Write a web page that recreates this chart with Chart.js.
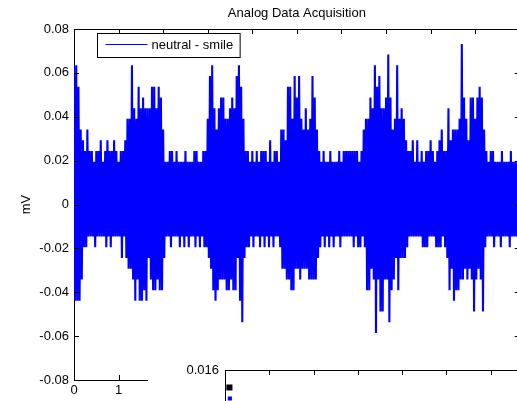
<!DOCTYPE html>
<html>
<head>
<meta charset="utf-8">
<script src="https://cdn.jsdelivr.net/npm/chart.js@4.4.1/dist/chart.umd.min.js"></script>
<style>
    html, body { margin: 0; padding: 0; background: #fff; overflow: hidden; width: 517px; height: 401px; }
    #wrap { position: relative; width: 517px; height: 401px; overflow: hidden; }
    #mainChart { position: absolute; left: 0; top: 0; }
    #insetChart { position: absolute; left: 148px; top: 350px; background: #fff; }
</style>
</head>
<body>
<div id="wrap">
    <canvas id="mainChart" width="530" height="401"></canvas>
    <canvas id="insetChart" width="530" height="400"></canvas>
</div>
<script>
// labels
const chartTitle = 'Analog Data Acquisition';
const yAxisTitle = 'mV';
const seriesLabel = 'neutral - smile';

// time axis (s) and sample width of one envelope column
const xMin = 0;
const xMax = 10;
const xStep = 1;
const sampleStep = 0.05;

// y axis ticks (mV)
const yMin = -0.08;
const yMax = 0.08;
const yStep = 0.02;

// max / min of the signal in each column (mV)
const upperEnvelope = [
    0.0635,0.0635,0.0537,0.0342,0.0293,0.0244,0.0342,0.0244,0.0244,0.0195,0.0244,0.0244,0.0293,0.0195,0.0244,0.0293,0.0244,0.0244,0.0293,0.0244,
    0.0195,0.0244,0.0244,0.0293,0.0391,0.0391,0.0635,0.0439,0.0391,0.0537,0.0439,0.0488,0.0439,0.0439,0.0439,0.0537,0.0537,0.0439,0.0537,0.0488,
    0.0342,0.0195,0.0195,0.0244,0.0244,0.0195,0.0244,0.0195,0.0195,0.0195,0.0244,0.0195,0.0195,0.0195,0.0244,0.0244,0.0195,0.0195,0.0244,0.0244,
    0.0391,0.0586,0.0635,0.0439,0.0342,0.0439,0.0488,0.0488,0.0391,0.0391,0.0439,0.0488,0.0439,0.0586,0.0635,0.0537,0.0391,0.0244,0.0244,0.0195,
    0.0244,0.0195,0.0244,0.0195,0.0244,0.0244,0.0244,0.0195,0.0293,0.0195,0.0244,0.0244,0.0195,0.0342,0.0342,0.0293,0.0537,0.0537,0.0391,0.0586,
    0.0488,0.0586,0.0391,0.0342,0.0439,0.0342,0.0391,0.0586,0.0488,0.0342,0.0244,0.0195,0.0244,0.0195,0.0195,0.0244,0.0195,0.0195,0.0195,0.0244,
    0.0195,0.0244,0.0244,0.0244,0.0244,0.0244,0.0244,0.0244,0.0195,0.0244,0.0342,0.0391,0.0391,0.0488,0.0439,0.0635,0.0537,0.0586,0.0439,0.0439,
    0.0488,0.0684,0.0488,0.0342,0.0391,0.0635,0.0391,0.0439,0.0391,0.0293,0.0244,0.0244,0.0293,0.0195,0.0293,0.0195,0.0244,0.0195,0.0244,0.0244,
    0.0293,0.0244,0.0195,0.0244,0.0293,0.0342,0.0244,0.0244,0.0439,0.0293,0.0342,0.0342,0.0342,0.0391,0.0732,0.0488,0.0391,0.0293,0.0488,0.0488,
    0.0391,0.0488,0.0537,0.0488,0.0342,0.0244,0.0195,0.0244,0.0244,0.0195,0.0195,0.0195,0.0244,0.0195,0.0195,0.0195,0.0244,0.0195,0.0195,0.0195
];
const lowerEnvelope = [
    -0.0439,-0.0439,-0.0439,-0.0342,-0.0195,-0.0195,-0.0146,-0.0146,-0.0146,-0.0195,-0.0146,-0.0146,-0.0146,-0.0146,-0.0195,-0.0146,-0.0195,-0.0146,-0.0146,-0.0146,
    -0.0146,-0.0244,-0.0146,-0.0244,-0.0293,-0.0293,-0.0342,-0.0439,-0.0342,-0.0439,-0.0439,-0.0391,-0.0439,-0.0244,-0.0342,-0.0391,-0.0391,-0.0342,-0.0391,-0.0391,
    -0.0244,-0.0146,-0.0146,-0.0195,-0.0146,-0.0146,-0.0146,-0.0195,-0.0146,-0.0195,-0.0146,-0.0195,-0.0146,-0.0146,-0.0195,-0.0146,-0.0195,-0.0146,-0.0195,-0.0195,
    -0.0244,-0.0293,-0.0391,-0.0439,-0.0391,-0.0342,-0.0342,-0.0342,-0.0391,-0.0391,-0.0342,-0.0391,-0.0391,-0.0244,-0.0439,-0.0537,-0.0244,-0.0195,-0.0195,-0.0146,
    -0.0195,-0.0146,-0.0146,-0.0195,-0.0146,-0.0195,-0.0146,-0.0195,-0.0146,-0.0195,-0.0146,-0.0146,-0.0195,-0.0293,-0.0293,-0.0342,-0.0342,-0.0391,-0.0391,-0.0293,
    -0.0293,-0.0342,-0.0293,-0.0293,-0.0293,-0.0342,-0.0342,-0.0342,-0.0342,-0.0244,-0.0195,-0.0146,-0.0195,-0.0146,-0.0195,-0.0146,-0.0195,-0.0146,-0.0146,-0.0195,
    -0.0146,-0.0146,-0.0146,-0.0146,-0.0146,-0.0195,-0.0146,-0.0195,-0.0195,-0.0146,-0.0195,-0.0391,-0.0391,-0.0293,-0.0342,-0.0586,-0.0342,-0.0488,-0.0488,-0.0342,
    -0.0342,-0.0537,-0.0391,-0.0342,-0.0244,-0.0391,-0.0244,-0.0244,-0.0244,-0.0195,-0.0146,-0.0146,-0.0146,-0.0146,-0.0146,-0.0146,-0.0195,-0.0195,-0.0195,-0.0146,
    -0.0146,-0.0146,-0.0195,-0.0195,-0.0195,-0.0146,-0.0195,-0.0244,-0.0391,-0.0293,-0.0439,-0.0391,-0.0391,-0.0342,-0.0342,-0.0293,-0.0342,-0.0293,-0.0342,-0.0488,
    -0.0342,-0.0293,-0.0342,-0.0488,-0.0195,-0.0146,-0.0146,-0.0146,-0.0195,-0.0146,-0.0146,-0.0195,-0.0146,-0.0146,-0.0146,-0.0195,-0.0146,-0.0146,-0.0146,-0.0146
];

// second (overlapping) axes at the bottom
const insetYMin = 0;
const insetYMax = 0.016;
const insetYStep = 0.002;
const insetBlackPoints = [{ x: 0.10, y: 0.0152 }];
const insetBluePoints = [{ x: 0.11, y: 0.0147 }];

const FONT = { family: '"Liberation Sans", Arial, Helvetica, sans-serif', size: 13 };
const BLUE = 'rgb(0, 0, 255)';

// zigzag between column max and min so the trace fills like the dense original
function buildTrace() {
    const pts = [];
    upperEnvelope.forEach((hi, i) => {
        pts.push({ x: i * sampleStep, y: hi });
        pts.push({ x: (i + 0.5) * sampleStep, y: lowerEnvelope[i] });
    });
    return pts;
}

// matlab style ticks pointing into the box
const inwardTicks = {
    id: 'inwardTicks',
    afterDatasetsDraw(chart) {
        const ctx = chart.ctx;
        const area = chart.chartArea;
        const len = 5;
        ctx.save();
        ctx.strokeStyle = '#000';
        ctx.lineWidth = 1;
        ctx.beginPath();
        const xs = chart.scales.x;
        xs.ticks.forEach((t, i) => {
            const px = Math.round(xs.getPixelForTick(i)) + 0.5;
            ctx.moveTo(px, area.bottom);
            ctx.lineTo(px, area.bottom - len);
            ctx.moveTo(px, area.top);
            ctx.lineTo(px, area.top + len);
        });
        const ys = chart.scales.y;
        ys.ticks.forEach((t, i) => {
            const py = Math.round(ys.getPixelForTick(i)) + 0.5;
            ctx.moveTo(area.left, py);
            ctx.lineTo(area.left + len, py);
            ctx.moveTo(area.right, py);
            ctx.lineTo(area.right - len, py);
        });
        ctx.stroke();
        ctx.restore();
    }
};

// boxed legend in the upper left corner of the axes
const boxLegend = {
    id: 'boxLegend',
    afterDatasetsDraw(chart) {
        const ctx = chart.ctx;
        const area = chart.chartArea;
        const x = Math.round(area.left) + 23.5;
        const y = Math.round(area.top) + 4.5;
        const ds = chart.data.datasets[0];
        ctx.save();
        ctx.font = FONT.size + 'px ' + FONT.family;
        const w = 54 + ctx.measureText(ds.label).width + 7;
        ctx.fillStyle = '#fff';
        ctx.fillRect(x, y, w, 24);
        ctx.strokeStyle = '#000';
        ctx.lineWidth = 1;
        ctx.strokeRect(x, y, w, 24);
        ctx.strokeStyle = ds.borderColor;
        ctx.beginPath();
        ctx.moveTo(x + 8, y + 11);
        ctx.lineTo(x + 50, y + 11);
        ctx.stroke();
        ctx.fillStyle = '#000';
        ctx.textBaseline = 'middle';
        ctx.fillText(ds.label, x + 54, y + 12);
        ctx.restore();
    }
};

function frameAxis(position, size) {
    return {
        type: 'linear',
        position: position,
        z: 1,
        ticks: { display: false },
        grid: { drawOnChartArea: false, drawTicks: false },
        border: { display: true, color: '#000', width: 1 },
        afterFit: s => {
            if (position === 'top' || position === 'bottom') s.height = size; else s.width = size;
        }
    };
}

function drawMainChart() {
    const ctx = document.getElementById('mainChart').getContext('2d');
    const topAxis = frameAxis('top', 29);
    topAxis.min = xMin;
    topAxis.max = xMax;
    topAxis.title = { display: true, text: chartTitle, color: '#000', font: FONT, padding: { top: 6, bottom: 0 } };

    new Chart(ctx, {
        type: 'line',
        data: {
            datasets: [{
                label: seriesLabel,
                data: buildTrace(),
                borderColor: BLUE,
                borderWidth: 2.1,
                borderJoinStyle: 'bevel',
                pointRadius: 0,
                tension: 0,
                fill: false
            }]
        },
        options: {
            responsive: false,
            animation: false,
            events: [],
            layout: { padding: { left: 0, right: 8, top: 0, bottom: 0 } },
            plugins: { legend: { display: false }, tooltip: { enabled: false } },
            scales: {
                x: {
                    type: 'linear',
                    position: 'bottom',
                    min: xMin,
                    max: xMax,
                    z: 1,
                    ticks: { stepSize: xStep, color: '#000', font: FONT, padding: 3, maxRotation: 0 },
                    grid: { drawOnChartArea: false, drawTicks: false },
                    border: { display: true, color: '#000', width: 1 },
                    afterFit: s => { s.height = 21; }
                },
                y: {
                    type: 'linear',
                    position: 'left',
                    min: yMin,
                    max: yMax,
                    z: 1,
                    ticks: {
                        stepSize: yStep,
                        color: '#000',
                        font: FONT,
                        padding: 5,
                        callback: v => String(+v.toFixed(2))
                    },
                    grid: { drawOnChartArea: false, drawTicks: false },
                    border: { display: true, color: '#000', width: 1 },
                    title: { display: true, text: yAxisTitle, color: '#000', font: FONT, padding: { top: 19, bottom: 0 } },
                    afterFit: s => { s.width = 74; }
                },
                x2: topAxis,
                y2: frameAxis('right', 0)
            }
        },
        plugins: [inwardTicks, boxLegend]
    });
}

function drawInsetChart() {
    const ctx = document.getElementById('insetChart').getContext('2d');
    new Chart(ctx, {
        type: 'scatter',
        data: {
            datasets: [{
                data: insetBlackPoints,
                pointStyle: 'rect',
                pointRadius: 4.3,
                pointBorderWidth: 0,
                backgroundColor: '#000'
            }, {
                data: insetBluePoints,
                pointStyle: 'rect',
                pointRadius: 2.9,
                pointBorderWidth: 0,
                backgroundColor: BLUE
            }]
        },
        options: {
            responsive: false,
            animation: false,
            events: [],
            layout: { padding: { left: 0, right: 8, top: 20, bottom: 0 } },
            plugins: { legend: { display: false }, tooltip: { enabled: false } },
            scales: {
                x: {
                    type: 'linear',
                    position: 'bottom',
                    min: xMin,
                    max: xMax,
                    z: 1,
                    ticks: { stepSize: xStep, color: '#000', font: FONT },
                    grid: { drawOnChartArea: false, drawTicks: false },
                    border: { display: true, color: '#000', width: 1 },
                    afterFit: s => { s.height = 30; }
                },
                y: {
                    type: 'linear',
                    position: 'left',
                    min: insetYMin,
                    max: insetYMax,
                    z: 1,
                    ticks: {
                        stepSize: insetYStep,
                        color: '#000',
                        font: FONT,
                        padding: 6,
                        callback: v => String(+v.toFixed(3))
                    },
                    grid: { drawOnChartArea: false, drawTicks: false },
                    border: { display: true, color: '#000', width: 1 },
                    afterFit: s => { s.width = 77; }
                },
                x2: frameAxis('top', 0),
                y2: frameAxis('right', 0)
            }
        },
        plugins: [inwardTicks]
    });
}

drawMainChart();
drawInsetChart();
</script>
</body>
</html>
